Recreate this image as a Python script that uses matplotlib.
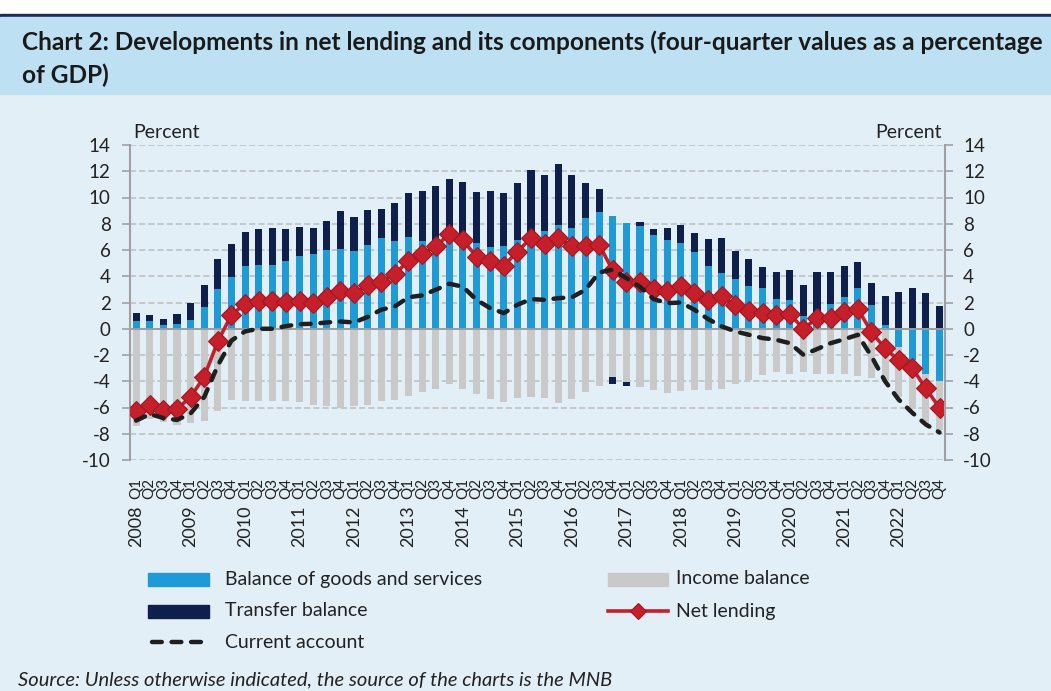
import numpy as np
import matplotlib.pyplot as plt
from matplotlib.patches import Rectangle
from matplotlib.lines import Line2D

plt.rcParams['font.family'] = ['Lato', 'DejaVu Sans']
plt.rcParams['axes.unicode_minus'] = False

# quarterly data 2008Q1 - 2022Q4 (four-quarter values, % of GDP)
years = list(range(2008, 2023))
quarters = ['Q1', 'Q2', 'Q3', 'Q4']

goods = [0.56, 0.61, 0.25, 0.36, 0.69, 1.68, 3.02, 3.98, 4.75, 4.85, 4.87, 5.2,
         5.56, 5.7, 6.0, 6.1, 5.96, 6.4, 6.9, 6.7, 6.98, 6.7, 6.5, 6.9,
         6.6, 6.57, 6.22, 6.27, 6.8, 7.0, 7.46, 7.9, 7.7, 8.45, 8.86, 8.6,
         8.02, 7.82, 7.13, 6.78, 6.55, 5.86, 4.75, 4.24, 3.78, 3.27, 3.07, 2.28,
         2.2, 0.96, 0.9, 1.9, 2.4, 3.1, 1.79, 0.3, -1.4, -2.36, -3.44, -4.0]
transfer = [0.61, 0.46, 0.49, 0.78, 1.24, 1.67, 2.26, 2.47, 2.61, 2.75, 2.83, 2.4,
            2.21, 2.0, 2.2, 2.86, 2.59, 2.64, 2.26, 2.9, 3.35, 3.83, 4.34, 4.52,
            4.6, 3.86, 4.28, 4.11, 4.34, 5.08, 4.27, 4.64, 4.0, 2.69, 1.8, -0.5,
            -0.28, 0.3, 0.47, 0.92, 1.37, 1.47, 2.1, 2.71, 2.11, 2.01, 1.62, 2.04,
            2.29, 2.4, 3.39, 2.39, 2.35, 1.95, 1.69, 2.17, 2.79, 3.1, 2.71, 1.71]
income = [-7.44, -6.9, -7.1, -7.3, -7.2, -7.0, -6.3, -5.4, -5.5, -5.5, -5.5, -5.5,
          -5.6, -5.8, -5.86, -6.07, -5.86, -5.8, -5.5, -5.46, -5.15, -4.82, -4.57, -4.2,
          -4.57, -4.97, -5.36, -5.56, -5.28, -5.2, -5.25, -5.66, -5.36, -4.85, -4.34, -3.68,
          -4.06, -4.47, -4.67, -4.9, -4.77, -4.67, -4.64, -4.57, -4.19, -3.93, -3.56, -3.32,
          -3.47, -3.33, -3.47, -3.43, -3.48, -3.58, -3.76, -3.97, -3.8, -3.76, -3.8, -3.75]
net_lending = [-6.3, -5.8, -6.2, -6.1, -5.2, -3.65, -0.97, 1.07, 1.9, 2.1, 2.1, 2.05,
               2.1, 1.95, 2.4, 2.9, 2.7, 3.3, 3.6, 4.16, 5.18, 5.7, 6.28, 7.23,
               6.73, 5.5, 5.16, 4.8, 5.88, 6.92, 6.48, 6.88, 6.3, 6.3, 6.4, 4.45,
               3.6, 3.6, 3.0, 2.84, 3.22, 2.74, 2.2, 2.46, 1.78, 1.37, 1.19, 1.07,
               1.12, 0.0, 0.81, 0.81, 1.3, 1.5, -0.25, -1.5, -2.41, -3.02, -4.55, -6.04]
current_account = [-7.0, -6.5, -6.8, -6.95, -6.45, -5.2, -2.8, -0.9, -0.2, 0.0, 0.0, 0.2,
                   0.35, 0.38, 0.48, 0.55, 0.48, 0.9, 1.45, 1.7, 2.4, 2.54, 2.97, 3.43,
                   3.2, 2.2, 1.57, 1.19, 1.83, 2.26, 2.2, 2.33, 2.4, 2.97, 4.29, 4.5,
                   3.86, 3.2, 2.26, 1.95, 2.0, 1.45, 0.74, 0.18, -0.2, -0.46, -0.71, -0.84,
                   -1.1, -1.98, -1.55, -1.1, -0.8, -0.46, -2.1, -4.0, -5.4, -6.4, -7.3, -7.9]

c_goods = '#1e9bd7'
c_transfer = '#0f1f4b'
c_income = '#c9c9c9'
c_net = '#c41f2b'
c_ca = '#1f1f1f'
bg = '#e2eff6'
txt = '#222222'

W, H = 1051, 691
def fx(px):
    return px / W
def fy(py):
    return 1 - py / H

fig = plt.figure(figsize=(W / 100, H / 100), dpi=100, facecolor=bg)

# header band
fig.add_artist(Rectangle((0, fy(14)), 1, 14 / H, transform=fig.transFigure, color='white', zorder=0))
fig.add_artist(Rectangle((0, fy(17)), 1, 3 / H, transform=fig.transFigure, color='#1f2a55', zorder=0))
fig.add_artist(Rectangle((0, fy(94)), 1, 77 / H, transform=fig.transFigure, color='#bde0f2', zorder=0))
fig.text(fx(22), fy(42), 'Chart 2: Developments in net lending and its components (four-quarter values as a percentage',
         fontsize=17.6, fontweight='bold', color='#1a1a1a', va='center', ha='left')
fig.text(fx(22), fy(75), 'of GDP)', fontsize=17.6, fontweight='bold', color='#1a1a1a', va='center', ha='left')

ax = fig.add_axes([fx(130), fy(460), 815 / W, 315 / H])
ax.set_facecolor('none')

n = len(goods)
x = np.arange(n)
pos_base = np.zeros(n)
neg_base = np.zeros(n)
for vals, col in [(goods, c_goods), (income, c_income), (transfer, c_transfer)]:
    v = np.array(vals)
    bottom = np.where(v >= 0, pos_base, neg_base)
    ax.bar(x, v, bottom=bottom, width=0.52, color=col, zorder=2)
    pos_base += np.where(v >= 0, v, 0)
    neg_base += np.where(v < 0, v, 0)

ax.axhline(0, color='#9c9c9c', lw=1.4, zorder=2.5)
ax.plot(x, net_lending, color=c_net, lw=2.6, marker='D', markersize=10,
        markerfacecolor=c_net, markeredgecolor='#a3171f', markeredgewidth=0.8, zorder=3)
ax.plot(x, current_account, color=c_ca, lw=3.2, linestyle=(0, (2.2, 2.2)),
        dash_capstyle='round', zorder=4)

ax.set_xlim(-0.45, n - 0.6)
ax.set_ylim(-10, 14)
yt = list(range(-10, 15, 2))
ax.set_yticks(yt)
ax.grid(axis='y', linestyle=(0, (4, 2)), color='#bdbdbd', lw=1.1)
ax.set_axisbelow(True)
for s in ['top', 'bottom', 'right']:
    ax.spines[s].set_visible(False)
ax.spines['left'].set_color('#a0a0a0')
ax.spines['left'].set_linewidth(1.5)
ax.tick_params(axis='y', direction='out', length=6, width=1.2, color='#a0a0a0',
               labelsize=13.5, pad=8, labelcolor=txt)

q_labels = [q for y in years for q in quarters]
ax.set_xticks(x, labels=q_labels, rotation=90, fontsize=11, color=txt)
ax.tick_params(axis='x', length=0, pad=13)
for i, yr in enumerate(years):
    ax.text(i * 4, -0.143, str(yr), transform=ax.get_xaxis_transform(), rotation=90,
            ha='center', va='top', fontsize=13, color=txt)

ax2 = ax.twinx()
ax2.set_ylim(-10, 14)
ax2.set_yticks(yt)
for s in ['top', 'bottom', 'left']:
    ax2.spines[s].set_visible(False)
ax2.spines['right'].set_color('#a0a0a0')
ax2.spines['right'].set_linewidth(1.5)
ax2.tick_params(axis='y', direction='out', length=6, width=1.2, color='#a0a0a0',
                labelsize=13.5, pad=7, labelcolor=txt)

fig.text(fx(133), fy(132), 'Percent', fontsize=14, color=txt, ha='left', va='center')
fig.text(fx(942), fy(132), 'Percent', fontsize=14, color=txt, ha='right', va='center')

# legend
def patch(x0, x1, yc, col):
    fig.add_artist(Rectangle((fx(x0), fy(yc + 6.5)), (x1 - x0) / W, 13 / H,
                             transform=fig.transFigure, color=col))

patch(148, 209, 579, c_goods)
patch(148, 209, 611, c_transfer)
patch(608, 668, 579, c_income)
fig.add_artist(Line2D([fx(152), fx(205)], [fy(642), fy(642)], transform=fig.transFigure,
                      color=c_ca, lw=3.2, linestyle=(0, (2.2, 2.2)), dash_capstyle='round'))
fig.add_artist(Line2D([fx(608), fx(668)], [fy(611), fy(611)], transform=fig.transFigure,
                      color=c_net, lw=2.6))
fig.add_artist(Line2D([fx(638)], [fy(611)], transform=fig.transFigure, marker='D',
                      markersize=8, color=c_net, markeredgecolor='#a3171f', markeredgewidth=0.8))
leg_fs = 14
fig.text(fx(225), fy(579), 'Balance of goods and services', fontsize=leg_fs, va='center', color=txt)
fig.text(fx(225), fy(611), 'Transfer balance', fontsize=leg_fs, va='center', color=txt)
fig.text(fx(225), fy(642), 'Current account', fontsize=leg_fs, va='center', color=txt)
fig.text(fx(676), fy(579), 'Income balance', fontsize=leg_fs, va='center', color=txt)
fig.text(fx(676), fy(611), 'Net lending', fontsize=leg_fs, va='center', color=txt)

fig.text(fx(18), fy(680), 'Source: Unless otherwise indicated, the source of the charts is the MNB',
         fontsize=14.5, style='italic', va='center', color=txt)

fig.savefig('out.png', dpi=100, facecolor=bg)
